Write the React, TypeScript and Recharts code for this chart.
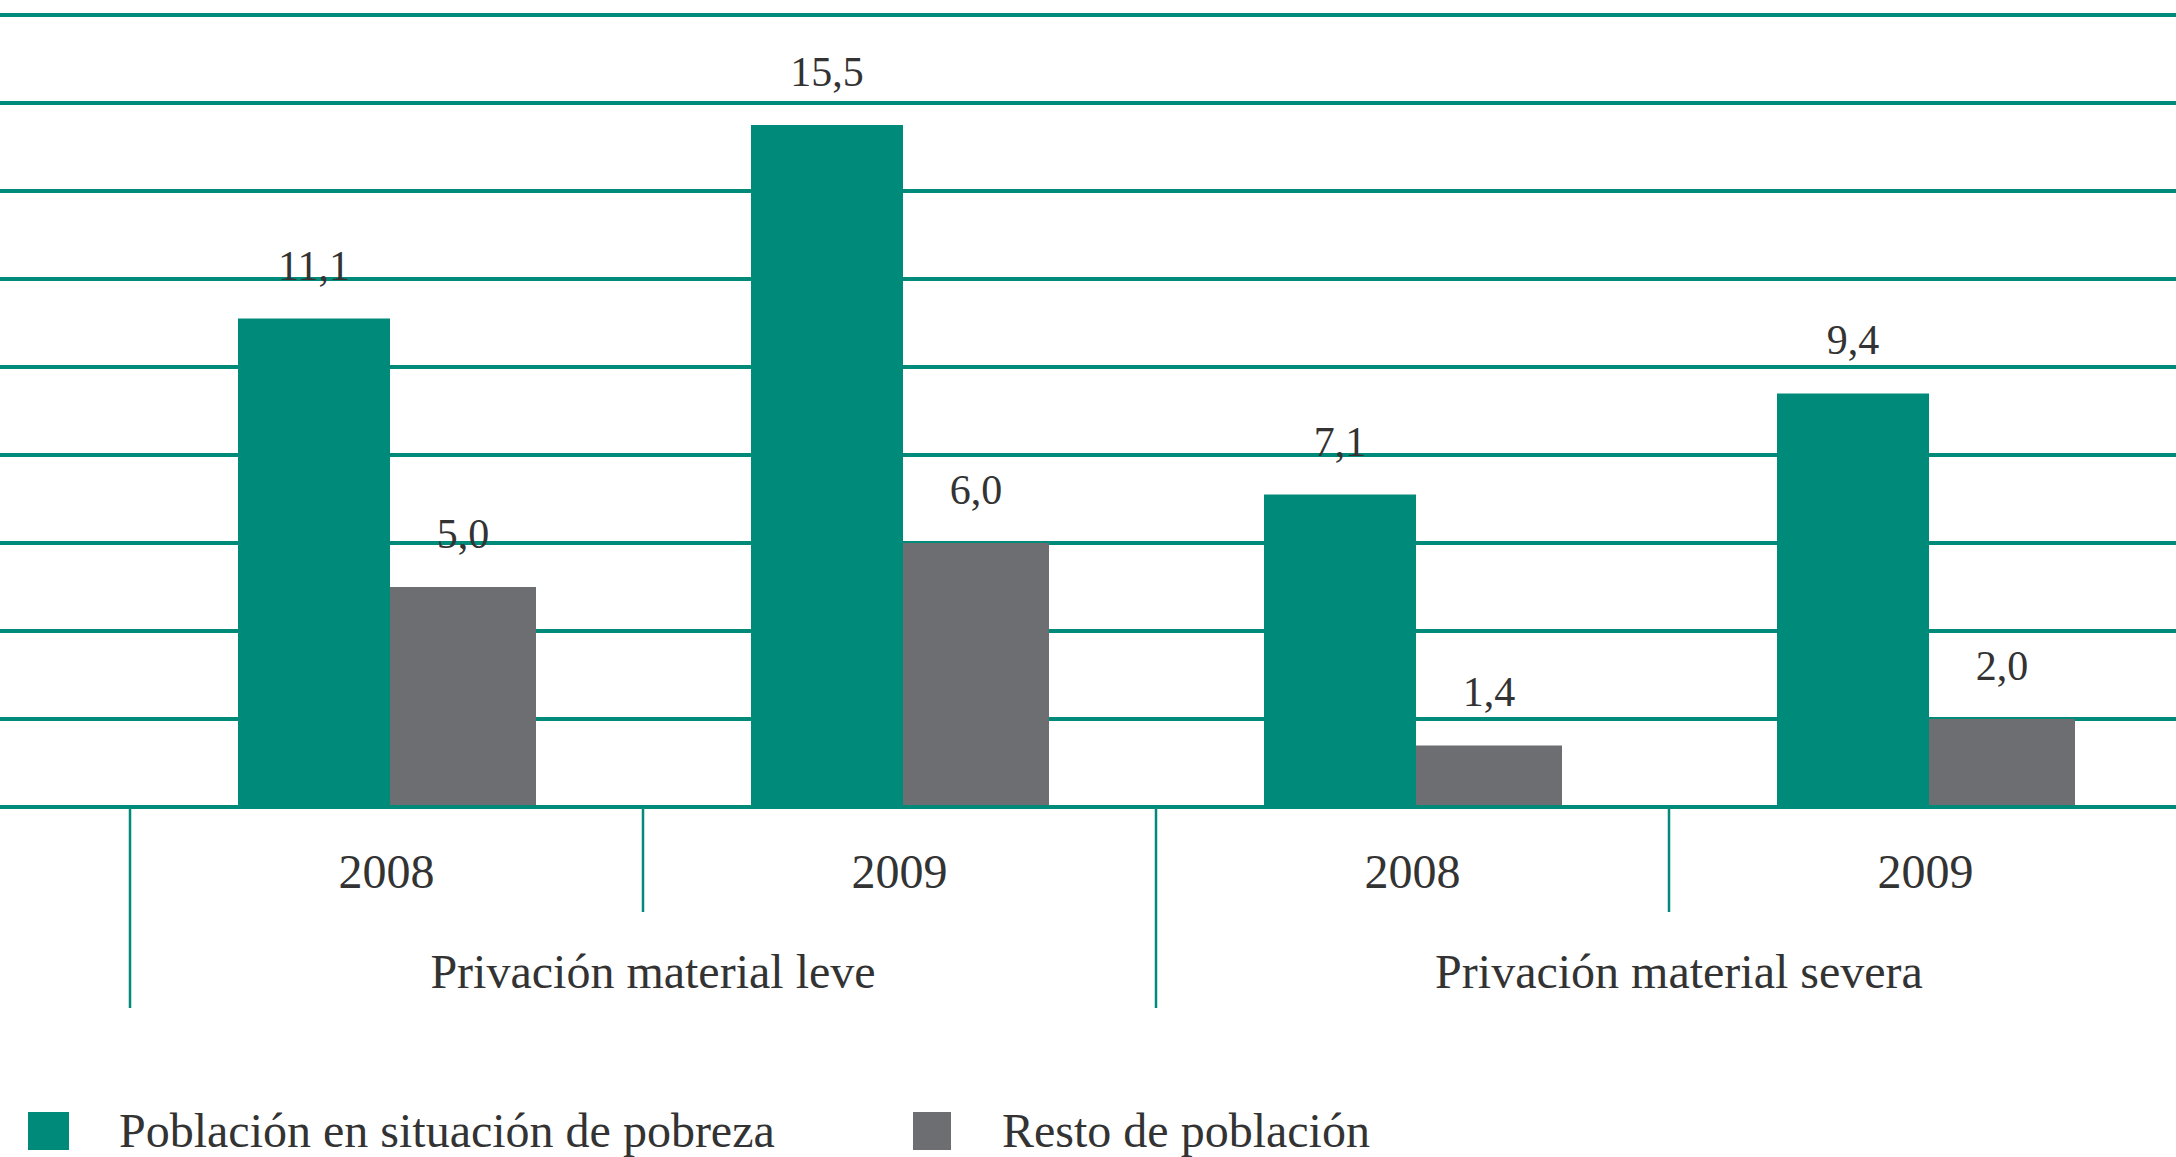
import { BarChart, Bar, XAxis, YAxis, CartesianGrid, Legend, LabelList } from 'recharts'

const years = ['2008', '2009', '2008', '2009']
const groups = ['Privación material leve', 'Privación material leve', 'Privación material severa', 'Privación material severa']
const pobreza = [11.1, 15.5, 7.1, 9.4]
const resto = [5.0, 6.0, 1.4, 2.0]
const yTicks = [0, 2, 4, 6, 8, 10, 12, 14, 16, 18]

const GREEN = '#008a79'
const GREY = '#6d6e71'
const TEXT = '#333333'
const FONT = '"Liberation Serif", "Times New Roman", serif'

const CHART_W = 2200
const CHART_H = 1157
const PAD_L = 130
const PAD_R = 18
const BAND = (CHART_W - PAD_L - PAD_R) / years.length

const data = years.map((year, i) => ({
  year,
  group: groups[i],
  pobreza: pobreza[i],
  resto: resto[i]
}))

const fmt = (v: number) => v.toFixed(1).replace('.', ',')

function YearTick({ x, y, payload, index }: any) {
  const left = x - BAND / 2
  const outer = index % 2 === 0
  return (
    <g>
      <line x1={left} x2={left} y1={y + 2} y2={y + (outer ? 201 : 105)} stroke={GREEN} strokeWidth={2.5} />
      <text x={x} y={y + 81} textAnchor="middle" fontSize={48} fontFamily={FONT} fill={TEXT}>
        {payload.value}
      </text>
    </g>
  )
}

function GroupTick({ x, y, payload, index }: any) {
  if (index % 2 !== 0) return <g />
  return (
    <text x={x + BAND / 2 + 10} y={y + 76} textAnchor="middle" fontSize={48} fontFamily={FONT} fill={TEXT}>
      {payload.value}
    </text>
  )
}

function LegendContent({ payload }: any) {
  const items = payload || []
  const spots = [28, 913]
  return (
    <div style={{ position: 'relative', height: 135, fontFamily: FONT }}>
      {items.map((item: any, i: number) => (
        <div key={item.value}>
          <div style={{ position: 'absolute', left: spots[i], top: 90, width: i === 0 ? 41 : 38, height: 38, background: item.color }} />
          <div style={{ position: 'absolute', left: spots[i] + (i === 0 ? 91 : 89), top: 85, fontSize: 48, lineHeight: '48px', color: TEXT, whiteSpace: 'nowrap' }}>
            {item.value}
          </div>
        </div>
      ))}
    </div>
  )
}

export default function App() {
  return (
    <div style={{ position: 'absolute', left: 0, top: 0, width: 2176, height: 1157, overflow: 'hidden', background: '#fff' }}>
      <BarChart width={CHART_W} height={CHART_H} data={data} margin={{ top: 15, right: 0, bottom: 0, left: 0 }} barGap={0}>
        <CartesianGrid horizontal vertical={false} stroke={GREEN} strokeWidth={4} />
        <XAxis
          xAxisId={0}
          dataKey="year"
          height={105}
          interval={0}
          padding={{ left: PAD_L, right: PAD_R }}
          axisLine={{ stroke: GREEN, strokeWidth: 4 }}
          tickLine={false}
          tickSize={0}
          tickMargin={0}
          tick={<YearTick />}
        />
        <XAxis
          xAxisId={1}
          dataKey="group"
          height={110}
          interval={0}
          padding={{ left: PAD_L, right: PAD_R }}
          axisLine={false}
          tickLine={false}
          tickSize={0}
          tickMargin={0}
          tick={<GroupTick />}
        />
        <YAxis hide domain={[0, 18]} ticks={yTicks} />
        <Legend verticalAlign="bottom" align="left" content={<LegendContent />} />
        <Bar xAxisId={0} dataKey="pobreza" name="Población en situación de pobreza" fill={GREEN} barSize={152} isAnimationActive={false}>
          <LabelList dataKey="pobreza" position="top" offset={39} formatter={(v: any) => fmt(Number(v))} fontSize={42} fontFamily={FONT} fill={TEXT} />
        </Bar>
        <Bar xAxisId={0} dataKey="resto" name="Resto de población" fill={GREY} barSize={146} isAnimationActive={false}>
          <LabelList dataKey="resto" position="top" offset={39} formatter={(v: any) => fmt(Number(v))} fontSize={42} fontFamily={FONT} fill={TEXT} />
        </Bar>
      </BarChart>
    </div>
  )
}
